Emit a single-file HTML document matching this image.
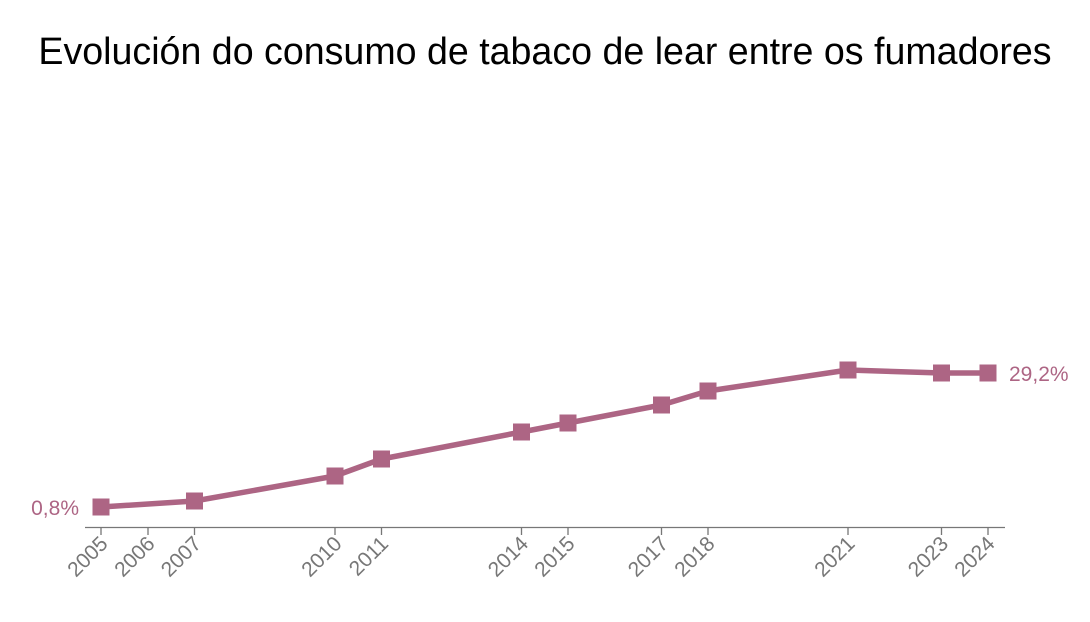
<!DOCTYPE html>
<html><head><meta charset="utf-8"><style>
html,body{margin:0;padding:0;background:#fff;}
svg{display:block;font-family:"Liberation Sans",Arial,sans-serif;}
</style></head><body>
<svg width="1090" height="622" viewBox="0 0 1090 622">
<text x="545" y="64" text-anchor="middle" font-size="37.6" fill="#000">Evolución do consumo de tabaco de lear entre os fumadores</text>
<line x1="85" y1="527.5" x2="1005" y2="527.5" stroke="#777" stroke-width="1.3"/>
<g stroke="#777" stroke-width="1.3">
<line x1="101" y1="527" x2="101" y2="535"/><line x1="148" y1="527" x2="148" y2="535"/><line x1="194.5" y1="527" x2="194.5" y2="535"/>
<line x1="335" y1="527" x2="335" y2="535"/><line x1="381.5" y1="527" x2="381.5" y2="535"/><line x1="521.5" y1="527" x2="521.5" y2="535"/>
<line x1="568" y1="527" x2="568" y2="535"/><line x1="661.5" y1="527" x2="661.5" y2="535"/><line x1="708" y1="527" x2="708" y2="535"/>
<line x1="848" y1="527" x2="848" y2="535"/><line x1="941.5" y1="527" x2="941.5" y2="535"/><line x1="988" y1="527" x2="988" y2="535"/>
</g>
<g font-size="21" fill="#777" text-anchor="end">
<text transform="translate(109,545) rotate(-45)">2005</text>
<text transform="translate(156,545) rotate(-45)">2006</text>
<text transform="translate(202.5,545) rotate(-45)">2007</text>
<text transform="translate(343,545) rotate(-45)">2010</text>
<text transform="translate(389.5,545) rotate(-45)">2011</text>
<text transform="translate(529.5,545) rotate(-45)">2014</text>
<text transform="translate(576,545) rotate(-45)">2015</text>
<text transform="translate(669.5,545) rotate(-45)">2017</text>
<text transform="translate(716,545) rotate(-45)">2018</text>
<text transform="translate(856,545) rotate(-45)">2021</text>
<text transform="translate(949.5,545) rotate(-45)">2023</text>
<text transform="translate(996,545) rotate(-45)">2024</text>
</g>
<polyline fill="none" stroke="#ad6584" stroke-width="5.5" stroke-linejoin="round" points="101,507 194.5,501 335,476 381.5,459 521.5,432 568,423 661.5,405 708,391 848,370 941.5,373 988,373"/>
<g fill="#ad6584">
<rect x="92.5" y="498.5" width="17" height="17"/><rect x="186" y="492.5" width="17" height="17"/>
<rect x="326.5" y="467.5" width="17" height="17"/><rect x="373" y="450.5" width="17" height="17"/>
<rect x="513" y="423.5" width="17" height="17"/><rect x="559.5" y="414.5" width="17" height="17"/>
<rect x="653" y="396.5" width="17" height="17"/><rect x="699.5" y="382.5" width="17" height="17"/>
<rect x="839.5" y="361.5" width="17" height="17"/><rect x="933" y="364.5" width="17" height="17"/>
<rect x="979.5" y="364.5" width="17" height="17"/>
</g>
<text x="79" y="515" text-anchor="end" font-size="21" fill="#ad6584">0,8%</text>
<text x="1009" y="381" font-size="21" fill="#ad6584">29,2%</text>
</svg>
</body></html>
